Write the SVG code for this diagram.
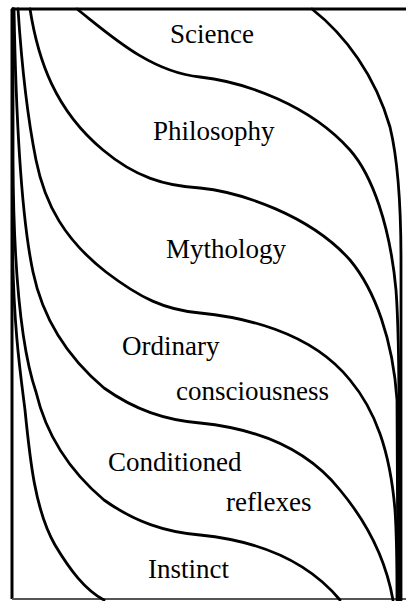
<svg xmlns="http://www.w3.org/2000/svg" width="406" height="601" viewBox="0 0 406 601">
<style>
.c{fill:none;stroke:#000;stroke-width:2.8;stroke-linecap:round;stroke-linejoin:round}
.b{fill:none;stroke:#000;stroke-width:3}
.t{font-family:"Liberation Serif","Times New Roman",serif;font-size:27px;fill:#000}
</style>
<rect width="406" height="601" fill="#fff"/>
<g id="frame">
<path class="b" d="M12,9 H406 M12,9 V599"/>
<path d="M12,599 H406" fill="none" stroke="#555" stroke-width="2"/>
</g>
<g id="connectors">
<path id="curve-T" class="c" d="M312,9 C345,35 375,75 390,127 C398,160 401,200 401,260 L401,600"/>
<path id="curve-A" class="c" d="M77,9 C110,35 150,72 200,77 C245,82 310,105 350,150 C372,175 390,225 396,290 C399,330 399,380 399,420 L399,600"/>
<path id="curve-B" class="c" d="M30,9 C38,60 55,110 103,150 C135,177 165,186 200,188 C240,192 310,215 350,260 C375,290 393,340 397,400 L398,600"/>
<path id="curve-C" class="c" d="M18,9 C22,70 28,120 36,160 C45,205 65,240 106,272 C140,298 165,310 200,313 C240,317 310,330 350,380 C375,410 390,450 395,510 C397,540 397,570 397,600"/>
<path id="curve-D" class="c" d="M14,9 C16,120 22,220 33,272 C42,315 65,355 104,388 C135,410 165,420 200,423 C240,427 300,440 340,490 C365,520 385,555 393,600"/>
<path id="curve-E" class="c" d="M13,9 L13,160 C13.5,260 20,345 36,392 C45,430 65,467 104,500 C135,522 165,532 200,535 C240,539 300,552 340,600"/>
<path id="curve-F" class="c" d="M12.5,9 L12.5,250 C14,330 20,370 25,410 C30,460 35,510 55,545 C70,570 85,590 104,600"/>
</g>
<g id="science"><text class="t" x="170" y="43">Science</text></g>
<g id="philosophy"><text class="t" x="153" y="140">Philosophy</text></g>
<g id="mythology"><text class="t" x="166" y="258">Mythology</text></g>
<g id="ordinary-consciousness"><text class="t" x="122" y="355">Ordinary</text><text class="t" x="176" y="400">consciousness</text></g>
<g id="conditioned-reflexes"><text class="t" x="108" y="471">Conditioned</text><text class="t" x="226" y="511">reflexes</text></g>
<g id="instinct"><text class="t" x="148" y="578">Instinct</text></g>
</svg>
